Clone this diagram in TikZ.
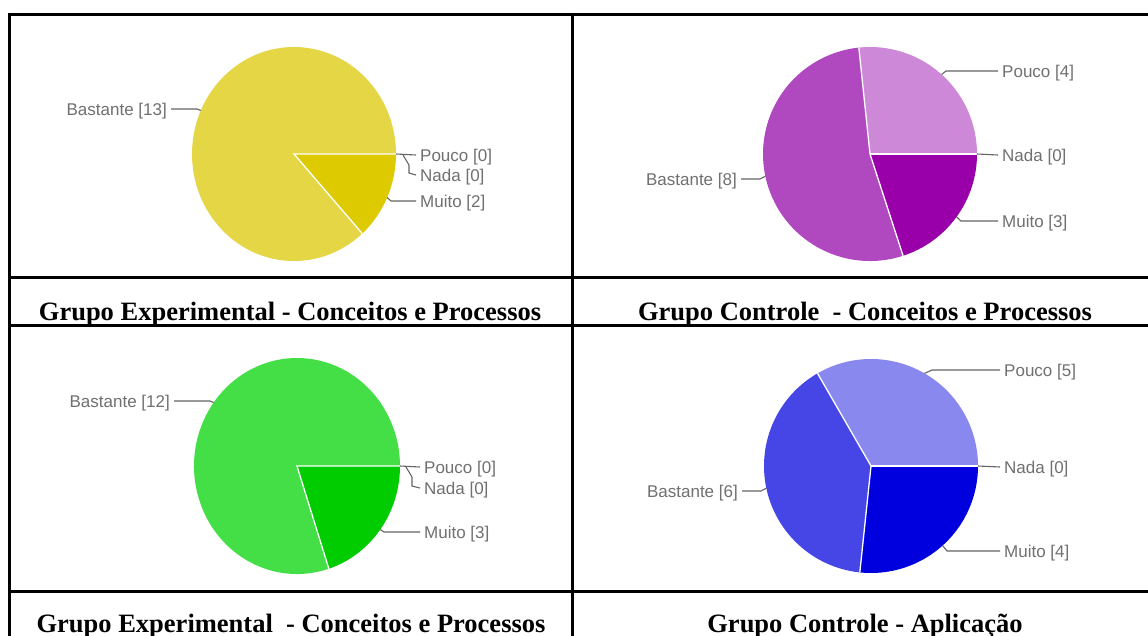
\documentclass[tikz,border=0pt]{standalone}
\usepackage{fontspec}
\setmainfont{Liberation Serif}
\newfontfamily\chartfont{Liberation Sans}
\usetikzlibrary{positioning}

\definecolor{yelA}{RGB}{229,214,70}
\definecolor{yelB}{RGB}{221,202,0}
\definecolor{purA}{RGB}{205,137,216}
\definecolor{purB}{RGB}{176,72,192}
\definecolor{purC}{RGB}{153,0,170}
\definecolor{grnA}{RGB}{68,222,70}
\definecolor{grnB}{RGB}{0,204,0}
\definecolor{bluA}{RGB}{136,136,238}
\definecolor{bluB}{RGB}{70,70,230}
\definecolor{bluC}{RGB}{0,0,222}
\definecolor{lblgray}{RGB}{112,112,112}
\definecolor{leadgray}{RGB}{100,100,100}

\begin{document}
\begin{tikzpicture}[x=1pt, y=-1pt,
  rule/.style={line width=3pt},
  cut/.style={white, line width=1.3pt},
  lead/.style={leadgray, line width=1.1pt},
  lblR/.style={anchor=west, inner xsep=4pt, inner ysep=0pt, text height=13.6pt, text depth=1.4pt, text=lblgray, font=\chartfont\fontsize{17}{19}\selectfont},
  lblL/.style={lblR, anchor=east},
  caption/.style={anchor=base, font=\bfseries\fontsize{26.5}{30}\selectfont}]

\clip (0,0) rectangle (1148,635);
\fill[white] (0,0) rectangle (1148,635);

% -------- table lines -----------
\draw[rule] (9,14) -- (1160,14);
\draw[rule] (9,277) -- (1160,277);
\draw[rule] (9,325) -- (1160,325);
\draw[rule] (9,591) -- (1160,591);
\draw[rule] (9,12.5) -- (9,640);
\draw[rule] (572,12.5) -- (572,640);

% -------- Grupo Experimental (top) -----------
\begin{scope}[shift={(294,154)}, yscale=-1]
\fill[yelB] (0,0) -- (0:102 and 107) arc[start angle=0, end angle=-48, x radius=102, y radius=107] -- cycle;
\fill[yelA] (0,0) -- (-48:102 and 107) arc[start angle=-48, end angle=-360, x radius=102, y radius=107] -- cycle;
\draw[cut] (0:102 and 107) -- (0,0) -- (-48:102 and 107);
\coordinate (ye-mui) at (-24:102 and 107);
\coordinate (ye-bas) at (156:102 and 107);
\coordinate (ye-pou) at (0:102 and 107);
\end{scope}

\node[lblL] (ye-lbas) at (171,109) {Bastante [13]};
\node[lblR] (ye-lpou) at (416,155) {Pouco [0]};
\node[lblR] (ye-lnad) at (416,175) {Nada [0]};
\node[lblR] (ye-lmui) at (416,201) {Muito [2]};

\draw[lead] (ye-bas) -- (197,109) -- (ye-lbas.east);
\draw[lead] (ye-pou) -- (ye-lpou.west);
\draw[lead] (403,155) -- (409,165) -- (409,173) -- (ye-lnad.west);
\draw[lead] (ye-mui) -- (391,201) -- (ye-lmui.west);

% -------- Grupo Controle (top) -----------
\begin{scope}[shift={(870,154)}, yscale=-1]
\fill[purA] (0,0) -- (96:107) arc[start angle=96, end angle=0, radius=107] -- cycle;
\fill[purC] (0,0) -- (0:107) arc[start angle=0, end angle=-72, radius=107] -- cycle;
\fill[purB] (0,0) -- (-72:107) arc[start angle=-72, end angle=-264, radius=107] -- cycle;
\draw[cut] (96:107) -- (0,0) -- (-72:107);
\draw[cut] (0,0) -- (0:107);
\coordinate (pu-pou) at (48:107);
\coordinate (pu-nad) at (0:107);
\coordinate (pu-mui) at (-36:107);
\coordinate (pu-bas) at (-168:107);
\end{scope}

\node[lblR] (pu-lpou) at (998,71) {Pouco [4]};
\node[lblR] (pu-lnad) at (998,155) {Nada [0]};
\node[lblR] (pu-lmui) at (998,221) {Muito [3]};
\node[lblL] (pu-lbas) at (741,179) {Bastante [8]};

\draw[lead] (pu-pou) -- (946,71) -- (pu-lpou.west);
\draw[lead] (pu-nad) -- (pu-lnad.west);
\draw[lead] (pu-mui) -- (961,221) -- (pu-lmui.west);
\draw[lead] (pu-bas) -- (760,179) -- (pu-lbas.east);

\node[caption] (cap1) at (290,320) {Grupo Experimental - Conceitos e Processos};
\node[caption] (cap2) at (865,320) {Grupo Controle\ \ - Conceitos e Processos};

% -------- Grupo Experimental (bottom) -----------
\begin{scope}[shift={(297,466)}, yscale=-1]
\fill[grnB] (0,0) -- (0:103 and 108) arc[start angle=0, end angle=-72, x radius=103, y radius=108] -- cycle;
\fill[grnA] (0,0) -- (-72:103 and 108) arc[start angle=-72, end angle=-360, x radius=103, y radius=108] -- cycle;
\draw[cut] (0:103 and 108) -- (0,0) -- (-72:103 and 108);
\coordinate (gr-mui) at (-36:103 and 108);
\coordinate (gr-bas) at (144:103 and 108);
\coordinate (gr-pou) at (0:103 and 108);
\end{scope}

\node[lblL] (gr-lbas) at (174,401) {Bastante [12]};
\node[lblR] (gr-lpou) at (420,467) {Pouco [0]};
\node[lblR] (gr-lnad) at (420,488) {Nada [0]};
\node[lblR] (gr-lmui) at (420,532) {Muito [3]};

\draw[lead] (gr-bas) -- (210,401) -- (gr-lbas.east);
\draw[lead] (gr-pou) -- (gr-lpou.west);
\draw[lead] (406,467) -- (412,477) -- (412,486) -- (gr-lnad.west);
\draw[lead] (gr-mui) -- (384,532) -- (gr-lmui.west);

% -------- Grupo Controle (bottom) -----------
\begin{scope}[shift={(871,466)}, yscale=-1]
\fill[bluA] (0,0) -- (120:107) arc[start angle=120, end angle=0, radius=107] -- cycle;
\fill[bluC] (0,0) -- (0:107) arc[start angle=0, end angle=-96, radius=107] -- cycle;
\fill[bluB] (0,0) -- (-96:107) arc[start angle=-96, end angle=-240, radius=107] -- cycle;
\draw[cut] (120:107) -- (0,0) -- (-96:107);
\draw[cut] (0,0) -- (0:107);
\coordinate (bl-pou) at (60:107);
\coordinate (bl-nad) at (0:107);
\coordinate (bl-mui) at (-48:107);
\coordinate (bl-bas) at (-168:107);
\end{scope}

\node[lblR] (bl-lpou) at (1000,370) {Pouco [5]};
\node[lblR] (bl-lnad) at (1000,467) {Nada [0]};
\node[lblR] (bl-lmui) at (1000,551) {Muito [4]};
\node[lblL] (bl-lbas) at (742,491) {Bastante [6]};

\draw[lead] (bl-pou) -- (932,370) -- (bl-lpou.west);
\draw[lead] (bl-nad) -- (bl-lnad.west);
\draw[lead] (bl-mui) -- (947,551) -- (bl-lmui.west);
\draw[lead] (bl-bas) -- (761,491) -- (bl-lbas.east);

\node[caption] (cap3) at (291,632) {Grupo Experimental\ \ - Conceitos e Processos};
\node[caption] (cap4) at (865,632) {Grupo Controle - Aplicação};

\end{tikzpicture}
\end{document}
